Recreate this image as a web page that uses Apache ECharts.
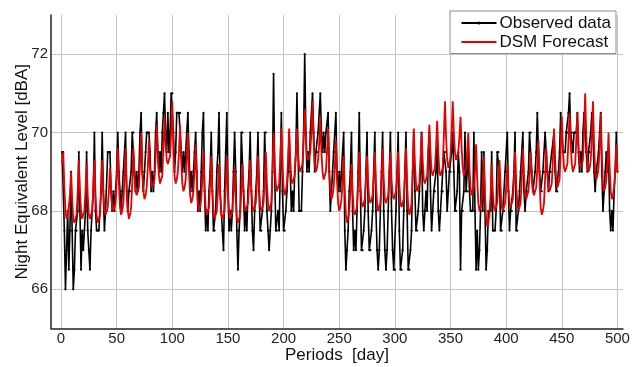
<!DOCTYPE html>
<html>
<head>
<meta charset="utf-8">
<script src="https://cdn.jsdelivr.net/npm/echarts@6/dist/echarts.min.js"></script>
<style>
  html, body { margin: 0; padding: 0; background: #fff; }
  #chart { width: 638px; height: 367px; }
</style>
</head>
<body>
<div id="chart"></div>
<script>
// Daily night-time equivalent level, one value per day starting at day 1
const firstDay = 1;

const observed = [
  69.5, 69.5, 67.5, 66.0, 67.0, 68.0, 66.5,
  67.5, 69.0, 67.5, 66.0, 66.5, 67.5, 67.5,
  68.0, 69.5, 68.0, 66.5, 67.5, 67.0, 67.5,
  68.0, 69.5, 67.5, 67.0, 66.5, 67.5, 68.0,
  68.5, 70.0, 68.0, 67.5, 67.5, 67.5, 68.0,
  68.5, 70.0, 68.5, 67.5, 68.0, 68.0, 69.5,
  69.5, 69.5, 68.5, 68.0, 68.5, 68.0, 68.5,
  69.0, 70.0, 69.0, 68.5, 68.0, 68.5, 69.0,
  69.0, 70.0, 68.5, 68.0, 68.5, 68.5, 69.0,
  70.0, 70.0, 69.0, 68.5, 69.0, 68.5, 69.0,
  70.0, 70.5, 69.0, 68.5, 69.0, 69.5, 70.0,
  70.0, 70.0, 69.5, 68.5, 69.0, 68.5, 69.0,
  70.0, 70.5, 69.5, 69.0, 69.5, 69.0, 70.0,
  70.5, 71.0, 70.0, 69.5, 70.5, 69.5, 70.0,
  71.0, 71.0, 70.0, 69.0, 69.5, 70.5, 70.5,
  70.5, 70.5, 69.5, 69.0, 69.5, 69.0, 69.5,
  70.0, 70.5, 69.5, 68.5, 69.0, 68.5, 69.0,
  69.5, 70.0, 69.0, 68.0, 68.5, 68.0, 69.0,
  70.0, 70.5, 68.5, 67.5, 68.0, 67.5, 68.5,
  69.0, 70.0, 68.5, 67.5, 67.5, 68.0, 69.0,
  69.5, 70.5, 68.5, 68.0, 67.5, 67.0, 68.5,
  69.5, 70.5, 68.5, 67.5, 68.0, 67.5, 68.0,
  69.0, 70.0, 69.0, 67.5, 66.5, 67.5, 68.0,
  70.0, 70.0, 68.5, 67.5, 68.0, 67.5, 68.5,
  69.0, 70.0, 68.5, 67.5, 67.0, 68.0, 68.5,
  69.0, 70.0, 68.5, 67.5, 67.5, 68.0, 68.5,
  70.0, 70.0, 68.0, 67.5, 67.0, 67.5, 68.0,
  69.0, 71.5, 69.0, 67.5, 67.5, 68.0, 67.5,
  69.0, 70.5, 68.5, 67.5, 67.5, 68.0, 68.5,
  69.0, 70.0, 69.0, 68.0, 68.5, 68.0, 69.0,
  69.5, 71.0, 69.5, 68.0, 68.0, 68.0, 69.0,
  70.0, 72.0, 70.0, 69.0, 69.5, 69.0, 70.0,
  70.0, 71.0, 70.0, 69.0, 69.5, 69.5, 70.0,
  70.0, 71.0, 70.0, 69.5, 70.0, 69.5, 70.0,
  70.0, 70.5, 69.0, 68.0, 68.5, 69.0, 69.5,
  69.5, 70.5, 69.0, 68.5, 69.0, 68.5, 69.0,
  69.0, 70.0, 67.5, 66.5, 67.0, 67.5, 68.5,
  69.0, 70.0, 68.0, 67.0, 67.5, 67.0, 68.0,
  69.0, 70.5, 68.5, 67.0, 67.0, 67.5, 68.0,
  69.0, 70.0, 68.0, 67.0, 67.0, 67.5, 68.0,
  69.0, 70.0, 68.0, 67.0, 66.5, 67.0, 68.0,
  69.0, 70.0, 68.0, 67.0, 66.5, 67.0, 68.0,
  69.0, 70.0, 68.0, 67.0, 66.5, 66.5, 68.0,
  69.0, 70.0, 67.5, 66.5, 66.5, 67.0, 68.0,
  69.0, 70.0, 68.0, 66.5, 66.5, 67.0, 67.5,
  69.0, 70.0, 68.5, 67.5, 67.5, 68.0, 68.5,
  69.0, 70.0, 68.0, 67.5, 68.0, 68.5, 68.0,
  69.5, 70.0, 68.5, 67.5, 68.0, 68.5, 68.5,
  69.0, 70.0, 68.0, 67.5, 68.0, 68.5, 68.5,
  69.5, 69.5, 69.0, 68.0, 68.5, 69.0, 69.0,
  69.5, 70.0, 69.0, 68.0, 68.0, 68.5, 69.5,
  69.0, 66.5, 68.0, 68.0, 68.5, 70.0, 68.5,
  68.5, 69.5, 68.5, 68.0, 68.0, 68.0, 70.0,
  68.0, 66.5, 67.5, 66.5, 67.0, 68.0, 69.5,
  68.0, 69.5, 68.0, 66.5, 67.0, 68.0, 68.0,
  68.0, 69.5, 67.5, 67.5, 67.5, 68.0, 69.5,
  69.5, 69.0, 67.5, 67.5, 68.0, 68.0, 69.0,
  69.0, 70.0, 68.5, 67.5, 68.0, 68.0, 68.5,
  69.0, 70.0, 67.5, 67.5, 68.0, 68.5, 69.0,
  69.0, 70.0, 68.5, 68.0, 68.5, 68.5, 69.0,
  70.0, 70.0, 69.0, 68.5, 68.5, 69.0, 69.5,
  70.5, 69.5, 69.0, 68.5, 68.5, 69.0, 69.0,
  70.0, 69.5, 69.0, 68.5, 69.0, 69.0, 69.5,
  69.5, 70.0, 69.0, 68.5, 68.5, 69.0, 69.5,
  70.5, 70.0, 69.5, 69.5, 69.5, 70.0, 70.0,
  70.5, 71.0, 70.0, 70.0, 69.5, 70.0, 70.0,
  70.0, 70.5, 69.5, 69.0, 69.5, 69.0, 70.0,
  70.5, 70.0, 69.5, 69.0, 69.5, 69.5, 70.0,
  70.5, 70.0, 69.0, 68.5, 69.0, 69.0, 69.5,
  70.0, 70.5, 69.0, 68.0, 68.5, 69.0, 69.5,
  69.0, 69.5, 68.0, 67.5, 68.0, 67.5, 68.5,
  69.0, 70.0, 69.0
];

const forecast = [
  69.2, 69.5, 68.6, 68.0, 67.8, 67.9, 68.1,
  68.4, 69.0, 68.3, 67.8, 67.7, 67.8, 67.9,
  68.5, 69.3, 68.5, 68.0, 67.8, 67.9, 68.0,
  68.5, 69.2, 68.4, 67.9, 67.8, 67.9, 68.0,
  68.6, 69.3, 68.4, 67.9, 67.7, 67.8, 67.9,
  68.5, 69.3, 68.5, 68.0, 67.9, 68.0, 68.1,
  68.5, 69.1, 68.5, 68.1, 68.0, 68.1, 68.2,
  68.8, 69.6, 68.7, 68.1, 67.9, 68.0, 68.2,
  68.8, 69.6, 68.6, 68.0, 67.8, 67.9, 68.1,
  68.7, 69.6, 68.9, 68.5, 68.4, 68.5, 68.6,
  69.2, 70.0, 69.1, 68.5, 68.3, 68.4, 68.6,
  69.1, 69.8, 69.1, 68.7, 68.6, 68.7, 68.8,
  69.4, 70.2, 69.4, 68.9, 68.7, 68.8, 68.9,
  69.6, 70.4, 69.7, 69.3, 69.2, 69.3, 69.4,
  70.0, 70.8, 69.6, 68.9, 68.7, 68.8, 69.0,
  69.5, 70.2, 69.3, 68.7, 68.5, 68.6, 68.8,
  69.3, 70.0, 69.0, 68.4, 68.2, 68.3, 68.5,
  69.0, 69.7, 68.8, 68.2, 68.0, 68.1, 68.3,
  68.8, 69.5, 68.6, 68.1, 67.9, 68.0, 68.1,
  68.7, 69.4, 68.5, 68.0, 67.8, 67.9, 68.0,
  68.5, 69.2, 68.4, 67.9, 67.8, 67.9, 68.0,
  68.6, 69.4, 68.5, 68.0, 67.8, 67.9, 68.0,
  68.5, 69.1, 68.3, 67.8, 67.7, 67.8, 67.9,
  68.5, 69.2, 68.5, 68.1, 68.0, 68.1, 68.2,
  68.7, 69.3, 68.6, 68.1, 68.0, 68.1, 68.2,
  68.7, 69.4, 68.6, 68.1, 68.0, 68.1, 68.2,
  68.8, 69.5, 68.7, 68.2, 68.0, 68.1, 68.2,
  69.0, 70.0, 69.2, 68.7, 68.5, 68.6, 68.7,
  69.3, 70.1, 69.2, 68.6, 68.4, 68.5, 68.7,
  69.3, 70.1, 69.3, 68.8, 68.7, 68.8, 68.9,
  69.4, 70.1, 69.5, 69.1, 69.0, 69.1, 69.2,
  69.8, 70.6, 69.9, 69.4, 69.3, 69.4, 69.5,
  70.0, 70.8, 69.8, 69.2, 69.0, 69.1, 69.3,
  69.7, 70.4, 69.5, 69.0, 68.8, 68.9, 69.0,
  69.5, 70.1, 69.1, 68.5, 68.3, 68.4, 68.6,
  69.1, 69.8, 68.8, 68.2, 68.0, 68.1, 68.3,
  68.7, 69.4, 68.5, 67.9, 67.7, 67.8, 68.0,
  68.5, 69.2, 68.5, 68.0, 67.9, 68.0, 68.1,
  68.7, 69.5, 68.7, 68.2, 68.1, 68.2, 68.3,
  68.8, 69.4, 68.7, 68.3, 68.2, 68.3, 68.4,
  68.9, 69.5, 68.7, 68.2, 68.0, 68.1, 68.2,
  68.8, 69.6, 68.8, 68.3, 68.2, 68.3, 68.4,
  68.9, 69.5, 68.8, 68.4, 68.3, 68.4, 68.5,
  68.9, 69.5, 68.7, 68.2, 68.1, 68.2, 68.3,
  68.9, 69.6, 68.7, 68.1, 67.9, 68.0, 68.2,
  69.0, 70.1, 69.2, 68.7, 68.5, 68.6, 68.7,
  69.3, 70.0, 69.3, 68.8, 68.7, 68.8, 68.9,
  69.5, 70.2, 69.5, 69.0, 68.9, 69.0, 69.1,
  69.6, 70.3, 69.5, 69.0, 68.9, 69.0, 69.1,
  69.9, 70.8, 69.9, 69.3, 69.1, 69.2, 69.4,
  70.0, 70.8, 70.0, 69.5, 69.3, 69.4, 69.5,
  69.9, 70.4, 69.6, 69.1, 68.9, 69.0, 69.1,
  69.5, 70.0, 69.1, 68.6, 68.4, 68.5, 68.6,
  69.0, 69.7, 68.8, 68.2, 68.0, 68.1, 68.3,
  68.7, 69.4, 68.4, 67.8, 67.6, 67.7, 67.9,
  68.4, 69.2, 68.5, 68.1, 68.0, 68.1, 68.2,
  68.7, 69.3, 68.6, 68.1, 68.0, 68.1, 68.2,
  68.6, 69.2, 68.6, 68.2, 68.1, 68.2, 68.3,
  68.8, 69.5, 68.7, 68.2, 68.0, 68.1, 68.2,
  68.8, 69.6, 68.9, 68.4, 68.3, 68.4, 68.5,
  68.9, 69.5, 68.9, 68.5, 68.4, 68.5, 68.6,
  69.1, 69.8, 68.8, 68.1, 67.9, 68.0, 68.2,
  68.8, 69.6, 69.0, 68.6, 68.5, 68.6, 68.7,
  69.3, 70.1, 69.3, 68.8, 68.6, 68.7, 68.8,
  69.5, 70.4, 69.6, 69.1, 69.0, 69.1, 69.2,
  69.8, 70.5, 69.7, 69.2, 69.0, 69.1, 69.2,
  69.8, 70.5, 69.7, 69.2, 69.1, 69.2, 69.3,
  70.0, 71.0, 69.9, 69.2, 69.0, 69.1, 69.3,
  69.9, 70.8, 69.7, 69.0, 68.8, 68.9, 69.1,
  69.6, 70.5, 69.4, 68.7, 68.5, 68.6, 68.8,
  69.2, 70.0, 69.1, 68.5, 68.3, 68.4, 68.6,
  69.0, 69.7, 69.0
];

const seriesNames = ['Observed data', 'DSM Forecast'];
const xTitle = 'Periods  [day]';
const yTitle = 'Night Equivalent Level [dBA]';

const toPairs = arr => arr.map((v, i) => [firstDay + i, v]);

const labelFont = "'Liberation Sans Narrow', 'Arial Narrow', 'Liberation Sans', Arial, sans-serif";
const titleFont = "'Liberation Sans', Arial, sans-serif";

const chart = echarts.init(document.getElementById('chart'), null, { renderer: 'canvas' });

chart.setOption({
  animation: false,
  backgroundColor: '#fff',
  grid: { left: 51, right: 15, top: 15, bottom: 38.5, containLabel: false, outerBoundsMode: 'none' },
  legend: {
    orient: 'vertical',
    right: 22,
    top: 11,
    padding: [3.5, 5, 3, 10.5],
    itemWidth: 35,
    itemHeight: 4,
    itemGap: 2,
    backgroundColor: '#fff',
    borderColor: '#8c8c8c',
    borderWidth: 1,
    data: [
      { name: seriesNames[0] },
      { name: seriesNames[1], icon: 'path://M0,0H35V1.8H0Z' }
    ],
    textStyle: { fontFamily: titleFont, fontSize: 17, lineHeight: 17, color: '#111', padding: [0, 0, 0, -2] }
  },
  xAxis: {
    type: 'value',
    min: -9,
    max: 505,
    splitNumber: 10,
    name: xTitle,
    nameLocation: 'middle',
    nameGap: 18,
    nameMoveOverlap: false,
    nameTextStyle: { fontFamily: titleFont, fontSize: 17, color: '#111' },
    axisLine: { show: true, onZero: false, lineStyle: { color: '#222', width: 1.5 } },
    axisTick: { show: false },
    axisLabel: {
      showMinLabel: false, showMaxLabel: false,
      margin: 3, fontFamily: labelFont, fontSize: 15, color: '#222'
    },
    splitLine: { show: true, showMinLine: false, showMaxLine: false, lineStyle: { color: '#c4c4c4', width: 1 } }
  },
  yAxis: {
    type: 'value',
    min: 65,
    max: 73,
    splitNumber: 4,
    name: yTitle,
    nameLocation: 'middle',
    nameGap: 20,
    nameMoveOverlap: false,
    nameTextStyle: { fontFamily: titleFont, fontSize: 17, color: '#111' },
    axisLine: { show: true, onZero: false, lineStyle: { color: '#222', width: 1.5 } },
    axisTick: { show: false },
    axisLabel: {
      showMinLabel: false, showMaxLabel: false,
      margin: 3, fontFamily: labelFont, fontSize: 15, color: '#222'
    },
    splitLine: { show: true, showMinLine: false, showMaxLine: false, lineStyle: { color: '#c4c4c4', width: 1 } }
  },
  series: [
    {
      name: seriesNames[0],
      type: 'line',
      data: toPairs(observed),
      symbol: 'circle',
      symbolSize: 2.2,
      showSymbol: true,
      showAllSymbol: true,
      color: '#000',
      lineStyle: { color: '#000', width: 1.6 },
      itemStyle: { color: '#000' },
      z: 2
    },
    {
      name: seriesNames[1],
      type: 'line',
      data: toPairs(forecast),
      symbol: 'none',
      color: '#e60000',
      lineStyle: { color: '#e60000', width: 1.8 },
      z: 3
    }
  ]
});
</script>
</body>
</html>
